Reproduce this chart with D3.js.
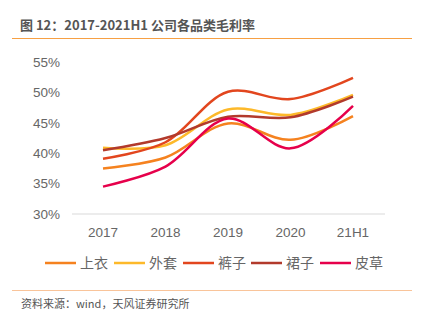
<!DOCTYPE html>
<html>
<head>
<meta charset="utf-8">
<script src="https://cdn.jsdelivr.net/npm/d3@7"></script>
<style>
  body { margin: 0; background: #fff; }
  svg { display: block; font-family: "Noto Sans CJK SC", "Liberation Sans", sans-serif; }
</style>
</head>
<body>
<div id="chart"></div>
<script>
// categories and series (gross margin, %)
var years = ["2017", "2018", "2019", "2020", "21H1"];
var seriesNames = ["上衣", "外套", "裤子", "裙子", "皮草"];
var shirt  = [37.5, 39.3, 44.9, 42.2, 46.1];
var coat   = [40.9, 41.3, 47.2, 46.3, 49.6];
var pants  = [39.1, 41.8, 50.1, 48.9, 52.4];
var skirt  = [40.5, 42.5, 46.0, 45.9, 49.3];
var fur    = [34.5, 37.8, 45.7, 40.8, 47.8];
var yTicks = [30, 35, 40, 45, 50, 55];

var colors = ["#F5821F", "#FDB92A", "#E2461E", "#B23A2C", "#E6004B"];
var allSeries = [shirt, coat, pants, skirt, fur];

var W = 425, H = 323;
var svg = d3.select("#chart").append("svg")
    .attr("width", W).attr("height", H);

// title
svg.append("text")
    .attr("x", 20).attr("y", 30)
    .attr("font-size", 13).attr("font-weight", "bold")
    .attr("fill", "#555")
    .text("图 12：2017-2021H1 公司各品类毛利率");
svg.append("line")
    .attr("x1", 12).attr("x2", 412).attr("y1", 38.5).attr("y2", 38.5)
    .attr("stroke", "#F7A043").attr("stroke-width", 1.2);

// scales
var x = d3.scalePoint().domain(years).range([103, 353]);
var y = d3.scaleLinear().domain([30, 55]).range([214, 62]);

// y tick labels
svg.append("g").selectAll("text")
    .data(yTicks).enter().append("text")
    .attr("x", 60).attr("y", function(d) { return y(d); })
    .attr("dy", "0.36em")
    .attr("text-anchor", "end")
    .attr("font-size", 13.5).attr("fill", "#666")
    .attr("font-family", "Liberation Sans, sans-serif")
    .text(function(d) { return d + "%"; });

// x baseline
svg.append("line")
    .attr("x1", 72).attr("x2", 385)
    .attr("y1", y(30)).attr("y2", y(30))
    .attr("stroke", "#d9d9d9").attr("stroke-width", 1);

// x tick labels
svg.append("g").selectAll("text")
    .data(years).enter().append("text")
    .attr("x", function(d) { return x(d); }).attr("y", 237)
    .attr("text-anchor", "middle")
    .attr("font-size", 13.5).attr("fill", "#666")
    .attr("font-family", "Liberation Sans, sans-serif")
    .text(function(d) { return d; });

// smoothed lines
var line = d3.line()
    .x(function(d, i) { return x(years[i]); })
    .y(function(d) { return y(d); })
    .curve(d3.curveCatmullRom.alpha(0.5));

svg.append("g").selectAll("path")
    .data(allSeries).enter().append("path")
    .attr("d", line)
    .attr("fill", "none")
    .attr("stroke", function(d, i) { return colors[i]; })
    .attr("stroke-width", 2.5);

// legend
var legendX = [45, 114, 183, 251, 320];
var legend = svg.append("g").selectAll("g")
    .data(seriesNames).enter().append("g")
    .attr("transform", function(d, i) { return "translate(" + legendX[i] + ",263)"; });
legend.append("line")
    .attr("x1", 0).attr("x2", 31)
    .attr("stroke", function(d, i) { return colors[i]; })
    .attr("stroke-width", 2.5);
legend.append("text")
    .attr("x", 35).attr("dy", "0.36em")
    .attr("font-size", 14).attr("fill", "#666")
    .text(function(d) { return d; });

// footer
svg.append("line")
    .attr("x1", 12).attr("x2", 412).attr("y1", 290.5).attr("y2", 290.5)
    .attr("stroke", "#F9C49A").attr("stroke-width", 1.2);
svg.append("text")
    .attr("x", 21).attr("y", 308)
    .attr("font-size", 11).attr("fill", "#555")
    .text("资料来源：wind，天风证券研究所");
</script>
</body>
</html>
